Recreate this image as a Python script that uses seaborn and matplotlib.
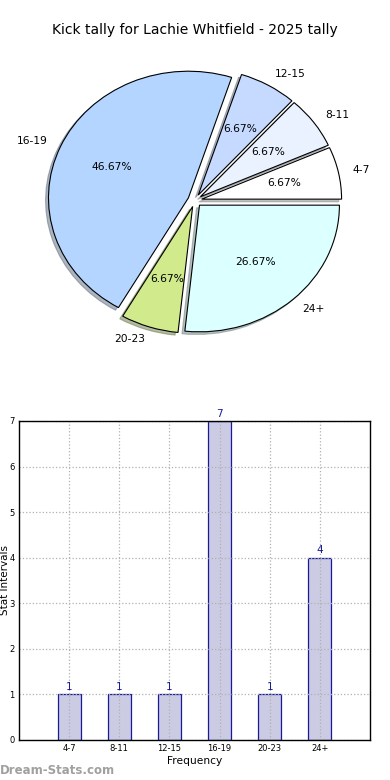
import numpy as np
import matplotlib
matplotlib.use("Agg")
import matplotlib.pyplot as plt
import pandas as pd
import seaborn as sns

# data
categories = ["4-7", "8-11", "12-15", "16-19", "20-23", "24+"]
counts = [1, 1, 1, 7, 1, 4]
pie_colors = ["#ffffff", "#eaf2ff", "#c6d9ff", "#b3d5ff", "#d0ea8c", "#dcffff"]
title = "Kick tally for Lachie Whitfield - 2025 tally"

sns.set_style("white")
plt.rcParams["font.family"] = ["DejaVu Sans"]
plt.rcParams["text.color"] = "black"
plt.rcParams["axes.labelcolor"] = "black"
plt.rcParams["xtick.color"] = "black"
plt.rcParams["ytick.color"] = "black"

fig = plt.figure(figsize=(3.9, 7.8), dpi=100)

# pie
ax1 = fig.add_axes([0.051, 0.540, 0.897, 0.406])
ax1.pie(counts, labels=categories, colors=pie_colors, autopct="%.2f%%",
        explode=[0.05] * len(counts),
        shadow={"ox": -0.015, "oy": -0.015, "shade": 0.5},
        startangle=0, labeldistance=1.1, pctdistance=0.6,
        wedgeprops={"linewidth": 0.8, "edgecolor": "black"},
        textprops={"fontsize": 7.7, "color": "black"})
ax1.set_aspect("auto")
ax1.set_xlim(-1.25, 1.25)
ax1.set_ylim(-1.25, 1.25)
ax1.axis("off")
fig.text(0.5, 1 - 30 / 780, title, ha="center", va="center", fontsize=10)

# bars
ax2 = fig.add_axes([0.0487, 0.0513, 0.9, 0.409])
df = pd.DataFrame({"interval": categories, "count": counts})
sns.barplot(data=df, x="interval", y="count", ax=ax2, width=0.46,
            color="#cbcbe4", edgecolor="#1a1a99", linewidth=0.9,
            saturation=1, errorbar=None)
for i, c in enumerate(counts):
    ax2.text(i, c + 0.05, str(c), ha="center", va="bottom",
             color="#1a1a99", fontsize=7.5)
ax2.set_xlim(-1, 6)
ax2.set_ylim(0, 7)
ax2.set_yticks(range(0, 8))
ax2.grid(True, color="#b0b0b0", linestyle=":", linewidth=0.9)
ax2.set_axisbelow(False)
for s in ax2.spines.values():
    s.set_color("black")
    s.set_linewidth(1.0)
    s.set_zorder(4)
ax2.tick_params(labelsize=6, length=0, pad=3)
ax2.set_xlabel("Frequency", fontsize=7.7, labelpad=2)
ax2.set_ylabel("Stat Intervals", fontsize=7.5)
ax2.yaxis.set_label_coords(-0.026, 0.5)

fig.text(0.0, 1 - 771 / 780, "Dream-Stats.com", fontsize=8.5,
         color="#a0a0a0", fontweight="bold", ha="left", va="center")

fig.savefig("out.png", dpi=100)
